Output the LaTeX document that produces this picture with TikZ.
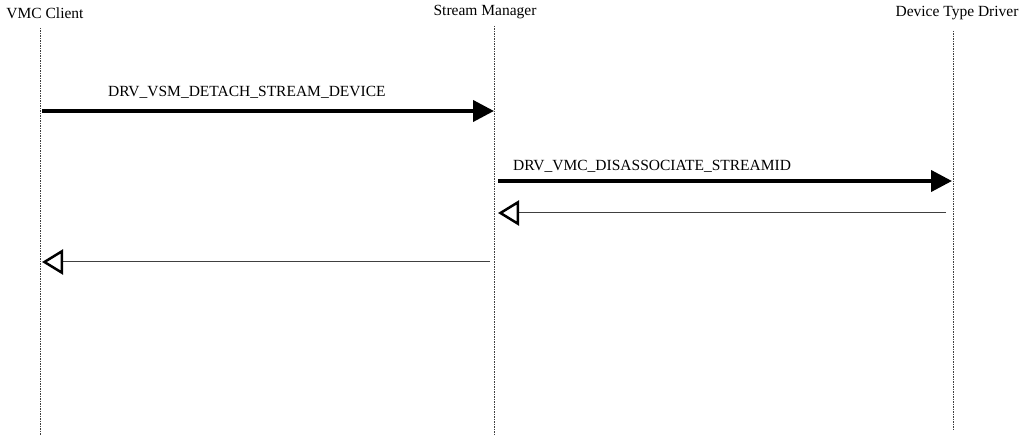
\documentclass[tikz,border=0pt]{standalone}
\usepackage{fontspec}
\setmainfont{Liberation Serif}
\usetikzlibrary{arrows.meta}
\begin{document}
\begin{tikzpicture}[x=1pt,y=-1pt,
  head/.style={inner sep=0pt, font=\fontsize{15.5}{17}\selectfont},
  msglabel/.style={inner sep=0pt, anchor=base west, font=\fontsize{15.5}{17}\selectfont},
  lifeline/.style={draw=black!75, line width=0.8pt, dash pattern=on 1.5pt off 1pt},
  callmsg/.style={line width=4pt, -{Triangle[length=21pt,width=21pt]}},
  replymsg/.style={draw=black!75, line width=1pt,
    -{Triangle[open,length=21pt,width=25pt,line width=2.5pt,color=black]}}
]
\useasboundingbox (0,0) rectangle (1024,435);

% participants
\node[head] (vmc) at (45,13) {VMC Client};
\node[head] (sm)  at (485,12) {Stream Manager};
\node[head] (dtd) at (957,13) {Device Type Driver};

% lifeline ends
\coordinate (vmcTop) at (40,28);
\coordinate (vmcBot) at (40,435);
\coordinate (smTop)  at (494,26);
\coordinate (smBot)  at (494,435);
\coordinate (dtdTop) at (953,31);
\coordinate (dtdBot) at (953,431);

\draw[lifeline] (vmcTop) -- (vmcBot);
\draw[lifeline] (smTop) -- (smBot);
\draw[lifeline] (dtdTop) -- (dtdBot);

% message end points
\coordinate (m1s) at (42,111);
\coordinate (m1e) at (494,111);
\coordinate (m2s) at (498,181);
\coordinate (m2e) at (952,181);
\coordinate (m3s) at (946,213);
\coordinate (m3e) at (498,213);
\coordinate (m4s) at (490,262);
\coordinate (m4e) at (42,262);

\draw[callmsg] (m1s) -- (m1e);
\node[msglabel] (l1) at (108,97) {DRV\_VSM\_DETACH\_STREAM\_DEVICE};

\draw[callmsg] (m2s) -- (m2e);
\node[msglabel] (l2) at (513,171) {DRV\_VMC\_DISASSOCIATE\_STREAMID};

\draw[replymsg] (m3s) -- (m3e);
\draw[replymsg] (m4s) -- (m4e);
\end{tikzpicture}
\end{document}
